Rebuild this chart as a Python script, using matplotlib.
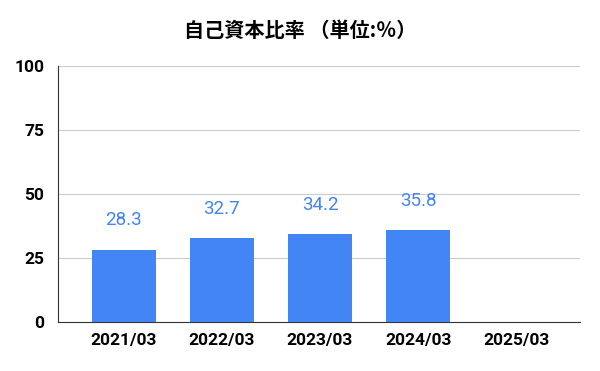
import matplotlib
matplotlib.use("Agg")
import matplotlib.pyplot as plt

categories = ["2021/03", "2022/03", "2023/03", "2024/03", "2025/03"]
values = [28.3, 32.7, 34.2, 35.8, None]
yticks = [0, 25, 50, 75, 100]
title = "自己資本比率 （単位:％）"

blue = "#4285F4"

fig = plt.figure(figsize=(6, 3.71), dpi=100)
ax = fig.add_axes([58/600, 1-322/371, 522/600, 256/371])

x = list(range(len(categories)))
for xi, v in zip(x, values):
    if v is None:
        continue
    ax.bar(xi, v, width=0.65, color=blue, zorder=3)
    ax.annotate(f"{v:.1f}", (xi, v), xytext=(0, 21), textcoords="offset points",
                ha="center", va="center", color=blue, fontsize=13.5, family="Roboto")

ax.set_xlim(-0.67, 4.65)
ax.set_ylim(0, 100)
ax.set_yticks(yticks)
ax.set_yticklabels([str(t) for t in yticks], fontsize=12.5, fontweight="bold", family="Roboto")
ax.set_xticks(x)
ax.set_xticklabels(categories, fontsize=12.5, fontweight="bold", family="Roboto")
ax.grid(axis="y", color="#cccccc", linewidth=0.8, zorder=0)
for s in ["top", "right"]:
    ax.spines[s].set_visible(False)
ax.spines["left"].set_color("#333333")
ax.spines["bottom"].set_color("#333333")
ax.tick_params(length=0, pad=8)
ax.tick_params(axis="y", pad=10)

fig.text(0.5, 1-30/371, title, ha="center", va="center", fontsize=14.5,
         fontweight="bold", family=["Noto Sans CJK JP", "DejaVu Sans"])

fig.savefig("out.png", dpi=100)
